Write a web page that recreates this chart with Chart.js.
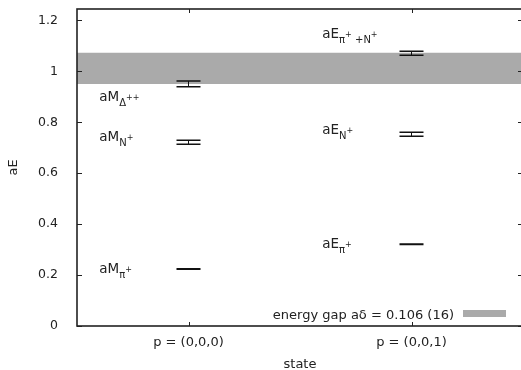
<!DOCTYPE html>
<html>
<head>
<meta charset="utf-8">
<script src="https://cdn.jsdelivr.net/npm/chart.js@4"></script>
<style>
html, body { margin: 0; padding: 0; overflow: hidden; background: #fff; }
#box { width: 524px; height: 370px; }
</style>
</head>
<body>
<div id="box"><canvas id="myChart"></canvas></div>
<script>
// x axis states and y ticks
const states = ['p = (0,0,0)', 'p = (0,0,1)'];
const yTicks = [0, 0.2, 0.4, 0.6, 0.8, 1, 1.2];

// measured levels: which state, value, error
const pointState = [0, 0, 0, 1, 1, 1];
const energyValues = [0.224, 0.722, 0.951, 0.321, 0.753, 1.071];
const energyErrors = [0.001, 0.008, 0.011, 0.001, 0.008, 0.008];

// energy gap band
const gapLow = 0.950;
const gapHigh = 1.073;
const gapLabel = 'energy gap a\u03b4 = 0.106 (16)';

// level names: [text, 0 = normal, 1 = subscript, 2 = superscript on subscript]
const levelLabels = [
    [['aM', 0], ['\u03c0', 1], ['+', 2]],
    [['aM', 0], ['N', 1], ['+', 2]],
    [['aM', 0], ['\u0394', 1], ['++', 2]],
    [['aE', 0], ['\u03c0', 1], ['+', 2]],
    [['aE', 0], ['N', 1], ['+', 2]],
    [['aE', 0], ['\u03c0', 1], ['+', 2], [' +N', 1], ['+', 2]]
];
const labelX = [-0.4, -0.4, -0.4, 0.6, 0.6, 0.6];
const labelY = [0.208, 0.725, 0.884, 0.308, 0.754, 1.131];

const FONT = 'DejaVu Sans';
const INK = '#222';

const framePlugin = {
    id: 'frame',
    afterDatasetsDraw(chart) {
        const c = chart.ctx;
        const a = chart.chartArea;
        const xs = chart.scales.x;
        const ys = chart.scales.y;
        c.save();
        c.strokeStyle = INK;
        c.lineWidth = 1;
        c.beginPath();
        yTicks.forEach(v => {
            const y = Math.round(ys.getPixelForValue(v)) + 0.5;
            c.moveTo(a.left, y); c.lineTo(a.left + 5, y);
            c.moveTo(a.right, y); c.lineTo(a.right - 5, y);
        });
        states.forEach((s, i) => {
            const x = Math.round(xs.getPixelForValue(i)) + 0.5;
            c.moveTo(x, a.bottom); c.lineTo(x, a.bottom - 4);
            c.moveTo(x, a.top); c.lineTo(x, a.top + 4);
        });
        c.stroke();
        c.lineWidth = 1.6;
        c.strokeRect(a.left, a.top, a.right - a.left, a.bottom - a.top);
        c.restore();
    }
};

const errorBarPlugin = {
    id: 'errorBars',
    afterDatasetsDraw(chart) {
        const c = chart.ctx;
        const xs = chart.scales.x;
        const ys = chart.scales.y;
        c.save();
        c.strokeStyle = '#111';
        energyValues.forEach((v, i) => {
            const x = xs.getPixelForValue(pointState[i]);
            const yHi = ys.getPixelForValue(v + energyErrors[i]);
            const yLo = ys.getPixelForValue(v - energyErrors[i]);
            c.lineWidth = 1;
            c.beginPath();
            c.moveTo(x, yHi); c.lineTo(x, yLo);
            c.stroke();
            c.lineWidth = 1.5;
            c.beginPath();
            c.moveTo(x - 12, yHi); c.lineTo(x + 12, yHi);
            c.moveTo(x - 12, yLo); c.lineTo(x + 12, yLo);
            c.stroke();
        });
        c.restore();
    }
};

const labelPlugin = {
    id: 'levelLabels',
    afterDatasetsDraw(chart) {
        const c = chart.ctx;
        const xs = chart.scales.x;
        const ys = chart.scales.y;
        const sizes = [13.5, 10, 8];
        const shifts = [0, 5, -1];
        c.save();
        c.fillStyle = INK;
        c.textBaseline = 'alphabetic';
        c.textAlign = 'left';
        levelLabels.forEach((parts, i) => {
            let x = xs.getPixelForValue(labelX[i]);
            const y = ys.getPixelForValue(labelY[i]);
            parts.forEach(([text, level]) => {
                c.font = sizes[level] + 'px "' + FONT + '"';
                c.fillText(text, x, y + shifts[level]);
                x += c.measureText(text).width;
            });
        });
        c.restore();
    }
};

const gapLegendPlugin = {
    id: 'gapLegend',
    afterDraw(chart) {
        const c = chart.ctx;
        const a = chart.chartArea;
        c.save();
        c.font = '13px "' + FONT + '"';
        c.fillStyle = INK;
        c.textAlign = 'right';
        c.textBaseline = 'alphabetic';
        c.fillText(gapLabel, a.right - 69, a.bottom - 7.5);
        c.fillStyle = '#aaaaaa';
        c.fillRect(a.right - 60, a.bottom - 16, 43, 7);
        c.restore();
    }
};

const ctx = document.getElementById('myChart');

new Chart(ctx, {
    type: 'scatter',
    data: {
        datasets: [
            {
                label: gapLabel,
                data: [{x: -0.5, y: gapHigh}, {x: 1.5, y: gapHigh}],
                showLine: true,
                borderWidth: 0,
                pointRadius: 0,
                backgroundColor: '#aaaaaa',
                fill: '+1'
            },
            {
                label: 'gap low',
                data: [{x: -0.5, y: gapLow}, {x: 1.5, y: gapLow}],
                showLine: true,
                borderWidth: 0,
                pointRadius: 0,
                fill: false
            },
            {
                label: 'levels',
                data: energyValues.map((v, i) => ({x: pointState[i], y: v})),
                pointRadius: 0
            }
        ]
    },
    options: {
        responsive: true,
        maintainAspectRatio: false,
        animation: false,
        layout: { padding: { top: 9, right: 1 } },
        plugins: {
            legend: { display: false },
            tooltip: { enabled: false }
        },
        scales: {
            x: {
                type: 'linear',
                min: -0.5,
                max: 1.5,
                grid: { display: false },
                border: { display: false },
                afterBuildTicks: s => { s.ticks = states.map((n, i) => ({value: i})); },
                afterFit: s => { s.height = 44; s.paddingLeft = 0; s.paddingRight = 0; },
                ticks: {
                    autoSkip: false,
                    maxRotation: 0,
                    padding: 1,
                    color: INK,
                    font: { family: FONT, size: 13 },
                    callback: (v, i) => states[i]
                },
                title: {
                    display: true,
                    text: 'state',
                    color: INK,
                    font: { family: FONT, size: 13 },
                    padding: { top: 0, bottom: -2 }
                }
            },
            y: {
                min: 0,
                max: 1.245,
                grid: { display: false },
                border: { display: false },
                afterBuildTicks: s => { s.ticks = yTicks.map(v => ({value: v})); },
                afterFit: s => { s.width = 77; s.paddingTop = 0; s.paddingBottom = 0; },
                ticks: {
                    padding: 11,
                    color: INK,
                    font: { family: FONT, size: 12.5 },
                    callback: v => String(Number(v.toFixed(2)))
                },
                title: {
                    display: true,
                    text: 'aE',
                    color: INK,
                    font: { family: FONT, size: 13 },
                    padding: { top: 6, bottom: 0 }
                }
            }
        }
    },
    plugins: [framePlugin, errorBarPlugin, labelPlugin, gapLegendPlugin]
});
</script>
</body>
</html>
